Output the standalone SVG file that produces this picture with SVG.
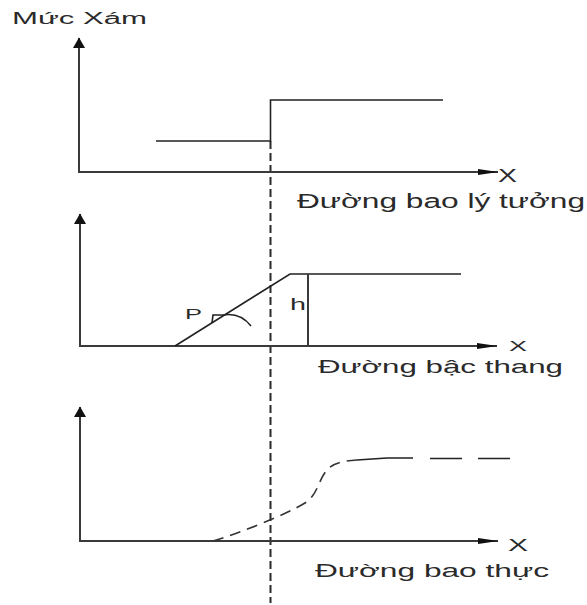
<svg xmlns="http://www.w3.org/2000/svg" width="587" height="605" viewBox="0 0 587 605">
<defs>
<style>
.axis{stroke:#3a3a3a;stroke-width:2;fill:none}
.line{stroke:#222;stroke-width:1.6;fill:none}
.guide{stroke:#2a2a2a;stroke-width:2;fill:none;stroke-dasharray:8,4}
.curve{stroke:#333;stroke-width:1.6;fill:none;stroke-dasharray:11,7}
.lbl{font-family:"Liberation Sans",Arial,sans-serif;fill:#2a2a2a}
</style>
<marker id="up" markerUnits="userSpaceOnUse" markerWidth="11" markerHeight="12" refX="10" refY="6" orient="auto" viewBox="0 0 11 12">
<path d="M0,0 L10.5,6 L0,12 z" fill="#111"/>
</marker>
<marker id="right" markerUnits="userSpaceOnUse" markerWidth="21" markerHeight="7" refX="20" refY="3.5" orient="auto" viewBox="0 0 21 7">
<path d="M0,0.5 L20.5,3.5 L0,6.5 z" fill="#111"/>
</marker>
</defs>
<rect width="587" height="605" fill="#fff"/>
<g id="connectors">
<line class="guide" x1="270.5" y1="141" x2="270.5" y2="603"/>
</g>
<g id="panel-ideal">
<line class="axis" x1="79" y1="172" x2="79" y2="38" marker-end="url(#up)"/>
<line class="axis" x1="78" y1="172" x2="498" y2="172" marker-end="url(#right)"/>
<path class="line" d="M156,141 H270.5 V100 H443"/>
<text class="lbl" x="12" y="24" font-size="16" textLength="135" lengthAdjust="spacingAndGlyphs">Mức Xám</text>
<text class="lbl" x="498" y="182" font-size="19" textLength="19" lengthAdjust="spacingAndGlyphs">X</text>
<text class="lbl" x="297" y="208" font-size="20" textLength="288" lengthAdjust="spacingAndGlyphs">Đường bao lý tưởng</text>
</g>
<g id="panel-step">
<line class="axis" x1="80" y1="346" x2="80" y2="214" marker-end="url(#up)"/>
<line class="axis" x1="79" y1="346" x2="497" y2="346" marker-end="url(#right)"/>
<path class="line" d="M175,346 L290,274 H461"/>
<line class="axis" x1="308" y1="274" x2="308" y2="346"/>
<path class="line" d="M212,323 L213,315 H223 Q240,312 251,326" stroke-width="1.3"/>
<text class="lbl" x="185" y="319" font-size="15" textLength="17" lengthAdjust="spacingAndGlyphs">P</text>
<text class="lbl" x="290" y="310" font-size="16" textLength="16" lengthAdjust="spacingAndGlyphs">h</text>
<text class="lbl" x="509" y="351" font-size="15" textLength="18" lengthAdjust="spacingAndGlyphs">X</text>
<text class="lbl" x="318" y="373" font-size="19" textLength="245" lengthAdjust="spacingAndGlyphs">Đường bậc thang</text>
</g>
<g id="panel-real">
<line class="axis" x1="80" y1="541" x2="80" y2="407" marker-end="url(#up)"/>
<line class="axis" x1="79" y1="541" x2="498" y2="541" marker-end="url(#right)"/>
<path class="curve" d="M213,541 C240,533 285,515 305,503 C318,495 318,480 327,470 C333,463 342,461 357,460"/>
<path class="line" d="M357,460 L387,458 H413" stroke="#444"/>
<line class="line" x1="430" y1="458.5" x2="510" y2="458.5" stroke="#444" stroke-dasharray="32,16"/>
<text class="lbl" x="508" y="551" font-size="16" textLength="20" lengthAdjust="spacingAndGlyphs">X</text>
<text class="lbl" x="315" y="577" font-size="18" textLength="234" lengthAdjust="spacingAndGlyphs">Đường bao thực</text>
</g>
</svg>
